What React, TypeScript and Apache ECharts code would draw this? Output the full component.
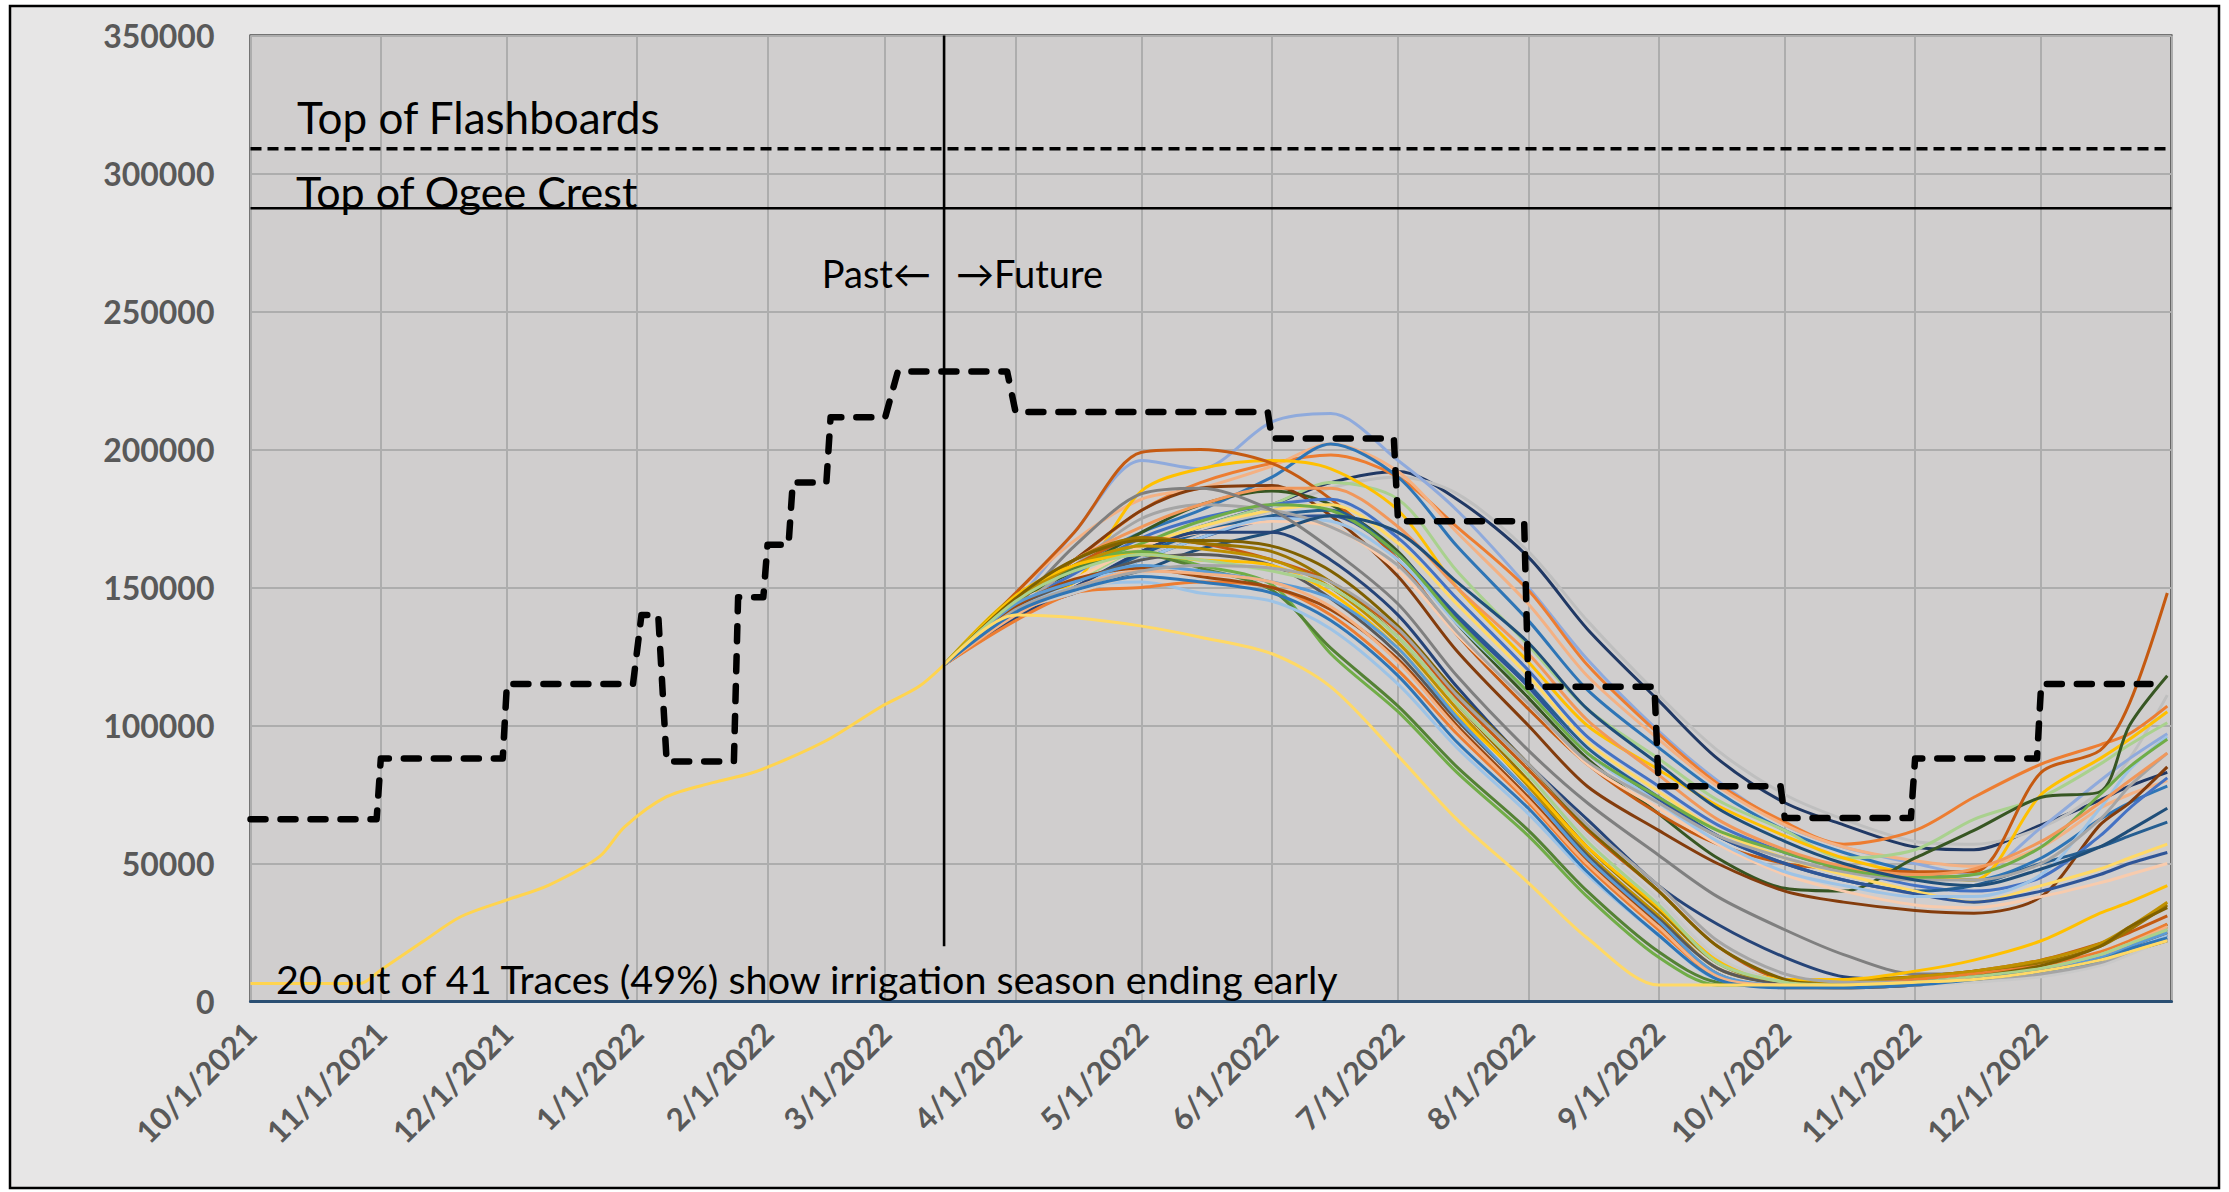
import React, { useEffect, useRef } from 'react';
import * as echarts from 'echarts';

// ---------- axis ----------
const X_MIN = '2021-10-01';
const X_MAX = '2023-01-01';
const Y_MIN = 0;
const Y_MAX = 350000;
const Y_STEP = 50000;

// ---------- reference levels ----------
const FLASHBOARDS_LEVEL = 309000;
const OGEE_LEVEL = 287400;
const NOW_DATE = '2022-03-15';
const NOW_LINE_RANGE = [20000, 350000];

// ---------- historical (past) trace ----------
const HIST_DATES = ['2021-10-01', '2021-10-27', '2021-11-01', '2021-11-11', '2021-11-20', '2021-12-01', '2021-12-11', '2021-12-23', '2021-12-29', '2022-01-08', '2022-01-19', '2022-01-28', '2022-02-06', '2022-02-16', '2022-02-28', '2022-03-09', '2022-03-15'];
const HIST_VALUES = [6500, 6500, 11400, 21700, 30700, 36800, 42200, 52500, 63300, 74200, 79300, 82700, 88100, 95400, 106800, 114100, 122000];

// ---------- rule curve (dashed step line) ----------
const STEP_DATES = ['2021-10-01', '2021-10-31', '2021-11-01', '2021-11-30', '2021-12-01', '2021-12-31', '2022-01-02', '2022-01-06', '2022-01-08', '2022-01-24', '2022-01-25', '2022-01-31', '2022-02-01', '2022-02-06', '2022-02-07', '2022-02-15', '2022-02-16', '2022-03-01', '2022-03-04', '2022-03-30', '2022-04-01', '2022-05-31', '2022-06-01', '2022-06-30', '2022-07-01', '2022-07-31', '2022-08-01', '2022-08-31', '2022-09-01', '2022-09-30', '2022-10-01', '2022-10-31', '2022-11-01', '2022-11-30', '2022-12-01', '2022-12-27'];
const STEP_VALUES = [66000, 66000, 88000, 88000, 115000, 115000, 140000, 140000, 87000, 87000, 146500, 146500, 165500, 165500, 188000, 188000, 211700, 211700, 228300, 228300, 213600, 213600, 204000, 204000, 174000, 174000, 114000, 114000, 78000, 78000, 66500, 66500, 88000, 88000, 115000, 115000];

// ---------- forecast traces (values in thousands) ----------
const TRACE_UNIT = 1000;
const TRACE_DATES = ['2022-03-15', '2022-04-01', '2022-04-15', '2022-05-01', '2022-05-15', '2022-06-01', '2022-06-15', '2022-07-01', '2022-07-15', '2022-08-01', '2022-08-15', '2022-09-01', '2022-09-15', '2022-10-01', '2022-10-15', '2022-11-01', '2022-11-15', '2022-12-01', '2022-12-15', '2022-12-22', '2022-12-31'];

const TRACE_VALUES = [
  [122, 140, 150, 163, 172, 180, 188, 192, 182, 161, 135, 109, 88, 72, 64, 56, 55, 64, 73, 78, 83],
  [122, 141, 149, 161, 170, 178, 186, 190, 184, 163, 138, 111, 91, 75, 66, 58, 57, 63, 76, 88, 111],
  [122, 145, 170, 196, 193, 210, 213, 196, 178, 150, 124, 98, 80, 64, 56, 50, 46, 63, 80, 88, 97],
  [122, 146, 160, 178, 188, 195, 198, 190, 172, 149, 122, 97, 79, 65, 57, 62, 74, 86, 93, 97, 107],
  [122, 148, 167, 182, 186, 194, 202, 192, 170, 144, 118, 95, 78, 64, 56, 51, 49, 56, 70, 75, 80],
  [122, 146, 158, 170, 178, 190, 202, 190, 165, 138, 113, 92, 76, 62, 54, 47, 44, 52, 66, 72, 78],
  [122, 144, 152, 165, 172, 180, 188, 182, 156, 129, 106, 88, 73, 62, 52, 55, 66, 74, 86, 93, 101],
  [122, 147, 152, 185, 193, 196, 193, 178, 150, 123, 100, 84, 71, 60, 52, 46, 44, 75, 88, 95, 105],
  [122, 145, 156, 170, 180, 185, 180, 163, 137, 110, 88, 68, 52, 41, 40, 52, 62, 74, 76, 100, 118],
  [122, 148, 170, 199, 200, 195, 182, 160, 133, 106, 86, 68, 57, 50, 48, 47, 47, 83, 91, 108, 148],
  [122, 145, 160, 178, 186, 187, 176, 154, 127, 100, 78, 62, 50, 40, 36, 33, 32, 38, 64, 72, 85],
  [122, 143, 155, 168, 175, 180, 182, 168, 146, 120, 96, 78, 64, 54, 48, 42, 40, 45, 60, 70, 81],
  [122, 141, 150, 162, 170, 176, 178, 162, 140, 115, 92, 74, 60, 50, 44, 40, 42, 50, 56, 60, 65],
  [122, 143, 153, 165, 172, 178, 180, 166, 144, 118, 94, 76, 62, 52, 46, 40, 36, 42, 48, 52, 57],
  [122, 142, 150, 160, 168, 175, 176, 162, 139, 114, 90, 73, 60, 50, 44, 39, 36, 40, 46, 50, 54],
  [122, 144, 153, 165, 170, 174, 172, 156, 133, 108, 86, 70, 57, 46, 40, 35, 34, 38, 43, 46, 50],
  [122, 143, 150, 160, 168, 175, 174, 160, 137, 112, 90, 72, 58, 47, 42, 38, 38, 46, 70, 84, 96],
  [122, 142, 158, 175, 180, 178, 172, 158, 134, 108, 87, 72, 60, 52, 47, 44, 44, 50, 66, 78, 90],
  [122, 145, 157, 166, 174, 180, 178, 162, 138, 112, 90, 74, 62, 54, 48, 45, 46, 56, 75, 85, 95],
  [122, 146, 160, 172, 180, 186, 186, 172, 150, 126, 102, 82, 66, 55, 49, 46, 48, 58, 72, 80, 90],
  [122, 140, 148, 156, 164, 170, 176, 170, 152, 130, 106, 86, 70, 58, 50, 44, 42, 48, 56, 62, 70],
  [122, 139, 150, 163, 170, 170, 160, 140, 114, 86, 66, 42, 28, 16, 9, 8, 9, 12, 17, 20, 24],
  [122, 143, 165, 184, 186, 178, 164, 144, 118, 91, 72, 53, 38, 26, 17, 10, 10, 12, 17, 21, 26],
  [122, 145, 158, 168, 166, 160, 152, 134, 110, 84, 62, 40, 20, 8, 7, 9, 11, 15, 21, 25, 31],
  [122, 146, 158, 163, 158, 151, 126, 105, 83, 60, 38, 16, 6, 6, 6, 7, 9, 12, 17, 21, 27],
  [122, 147, 157, 162, 157, 149, 128, 107, 85, 62, 40, 18, 7, 6, 6, 7, 9, 12, 17, 21, 28],
  [122, 142, 150, 152, 148, 145, 135, 115, 92, 68, 46, 24, 8, 6, 6, 7, 9, 12, 16, 19, 24],
  [122, 144, 160, 168, 166, 163, 152, 132, 108, 80, 56, 33, 14, 7, 8, 9, 11, 14, 20, 26, 35],
  [122, 145, 158, 165, 164, 160, 150, 130, 106, 78, 54, 31, 12, 7, 7, 9, 11, 15, 21, 27, 36],
  [122, 143, 152, 160, 162, 158, 146, 126, 102, 76, 53, 30, 12, 6, 5, 6, 8, 11, 15, 18, 22],
  [122, 138, 148, 150, 152, 150, 140, 120, 97, 72, 49, 26, 9, 6, 6, 8, 10, 13, 18, 22, 28],
  [122, 143, 153, 157, 154, 150, 142, 124, 100, 74, 51, 28, 10, 5, 5, 6, 8, 11, 16, 20, 25],
  [122, 147, 158, 162, 160, 158, 148, 128, 104, 79, 56, 34, 15, 8, 8, 11, 15, 22, 32, 36, 42],
  [122, 141, 148, 155, 158, 156, 150, 132, 108, 82, 60, 37, 16, 7, 6, 6, 7, 9, 13, 17, 23],
  [122, 144, 152, 158, 156, 152, 146, 128, 103, 76, 52, 29, 10, 6, 6, 7, 9, 12, 16, 20, 25],
  [122, 140, 150, 156, 155, 152, 143, 123, 99, 73, 50, 27, 9, 6, 6, 7, 9, 12, 17, 21, 27],
  [122, 146, 160, 167, 167, 165, 156, 136, 112, 86, 63, 40, 20, 8, 6, 7, 9, 13, 20, 27, 34],
  [122, 145, 156, 162, 160, 156, 150, 132, 108, 82, 58, 35, 14, 7, 6, 7, 9, 12, 17, 21, 26],
  [122, 142, 150, 156, 158, 157, 152, 135, 111, 86, 64, 42, 22, 10, 7, 7, 8, 10, 14, 18, 23],
  [122, 141, 149, 154, 152, 148, 138, 118, 94, 70, 47, 24, 8, 5, 5, 6, 8, 11, 15, 19, 23],
  [122, 140, 139, 136, 132, 126, 114, 89, 66, 43, 23, 6, 6, 6, 6, 7, 8, 11, 15, 18, 22],
];

const TRACE_COLORS = [
  '#203864', '#BFBFBF', '#8FAADC', '#ED7D31', '#F4B183', '#2E75B6', '#A9D18E', '#FFC000',
  '#375623', '#C55A11', '#843C0C', '#4472C4', '#255E91', '#FFD966', '#2F5597', '#F8CBAD',
  '#9DC3E6', '#A5A5A5', '#70AD47', '#F1975A', '#1F4E79',
  '#264478', '#7F7F7F', '#C55A11', '#70AD47', '#548235', '#9DC3E6', '#997300', '#BF9000',
  '#595959', '#ED7D31', '#9E480E', '#FFC000', '#C9C9C9', '#5B9BD5', '#F4B183', '#7F6000',
  '#A9D18E', '#A5A5A5', '#2E75B6', '#FFD966',
];

const FONT = "Lato, 'Open Sans', 'DejaVu Sans', sans-serif";

function fmtDate(v: number): string {
  const d = new Date(v);
  if (d.getFullYear() >= 2023) return '';
  return `${d.getMonth() + 1}/${d.getDate()}/${d.getFullYear()}`;
}

export default function App() {
  const ref = useRef<HTMLDivElement>(null);

  useEffect(() => {
    document.body.style.margin = '0';
    if (!ref.current) return;
    const chart = echarts.init(ref.current, undefined, { renderer: 'svg' });
    const DAY = 86400000;

    const traceSeries = TRACE_VALUES.map((vals, i) => ({
      type: 'line',
      name: `Trace ${i + 1}`,
      data: TRACE_DATES.map((d, j) => [d, vals[j] * TRACE_UNIT]),
      showSymbol: false,
      symbol: 'none',
      smooth: 0.3,
      silent: true,
      z: 2,
      lineStyle: { color: TRACE_COLORS[i], width: 3 },
    }));

    const option: any = {
      animation: false,
      backgroundColor: '#FFFFFF',
      grid: {
        left: 250.5,
        right: 57.5,
        top: 35.5,
        bottom: 190.5,
        show: true,
        backgroundColor: '#D0CECE',
        borderColor: '#000000',
        borderWidth: 2,
        containLabel: false,
        outerBoundsMode: 'none',
      },
      xAxis: {
        type: 'time',
        min: X_MIN,
        max: X_MAX,
        minInterval: 28 * DAY,
        maxInterval: 31 * DAY,
        axisLine: { show: true, onZero: false, lineStyle: { color: '#2B4F73', width: 3 } },
        axisTick: { show: false },
        splitLine: { show: true, lineStyle: { color: '#ADADAD', width: 2 } },
        axisLabel: {
          rotate: 45,
          margin: 26,
          fontSize: 31,
          fontWeight: 'bold',
          fontFamily: FONT,
          color: '#595959',
          formatter: (v: number) => fmtDate(v),
          showMinLabel: true,
          showMaxLabel: false,
          hideOverlap: false,
        },
      },
      yAxis: {
        type: 'value',
        min: Y_MIN,
        max: Y_MAX,
        interval: Y_STEP,
        axisLine: { show: false },
        axisTick: { show: false },
        splitLine: { show: true, lineStyle: { color: '#ADADAD', width: 2 } },
        axisLabel: {
          margin: 36,
          fontSize: 32,
          fontWeight: 'bold',
          fontFamily: FONT,
          color: '#595959',
          formatter: (v: number) => String(v),
        },
      },
      graphic: [
        {
          type: 'rect',
          z: -100,
          silent: true,
          shape: { x: 10, y: 6, width: 2209, height: 1182 },
          style: { fill: '#E7E6E6', stroke: '#000000', lineWidth: 2.5 },
        },
        {
          type: 'text', x: 297, y: 117, z: 100, silent: true,
          style: { text: 'Top of Flashboards', font: `44px ${FONT}`, fill: '#000', align: 'left', verticalAlign: 'middle' },
        },
        {
          type: 'text', x: 296, y: 191, z: 100, silent: true,
          style: { text: 'Top of Ogee Crest', font: `43px ${FONT}`, fill: '#000', align: 'left', verticalAlign: 'middle' },
        },
        {
          type: 'text', x: 931, y: 273, z: 100, silent: true,
          style: { text: 'Past\u2190', font: `38px ${FONT}`, fill: '#000', align: 'right', verticalAlign: 'middle' },
        },
        {
          type: 'text', x: 956, y: 273, z: 100, silent: true,
          style: { text: '\u2192Future', font: `38px ${FONT}`, fill: '#000', align: 'left', verticalAlign: 'middle' },
        },
        {
          type: 'text', x: 276, y: 978, z: 100, silent: true,
          style: { text: '20 out of 41 Traces (49%) show irrigation season ending early', font: `39.5px ${FONT}`, fill: '#000', align: 'left', verticalAlign: 'middle' },
        },
      ],
      series: [
        ...traceSeries,
        {
          type: 'line',
          name: 'Historical',
          data: HIST_DATES.map((d, i) => [d, HIST_VALUES[i]]),
          showSymbol: false,
          symbol: 'none',
          smooth: 0.3,
          silent: true,
          z: 3,
          lineStyle: { color: '#FFD44F', width: 3 },
        },
        {
          type: 'line',
          name: 'Rule curve',
          data: STEP_DATES.map((d, i) => [d, STEP_VALUES[i]]),
          showSymbol: false,
          symbol: 'none',
          silent: true,
          z: 5,
          lineStyle: { color: '#000000', width: 6.5, type: [15, 15], cap: 'round', join: 'round' },
        },
        {
          type: 'line',
          name: 'Top of Flashboards',
          data: [[X_MIN, FLASHBOARDS_LEVEL], [X_MAX, FLASHBOARDS_LEVEL]],
          showSymbol: false,
          symbol: 'none',
          silent: true,
          z: 5,
          lineStyle: { color: '#000000', width: 3.5, type: [11, 6] },
        },
        {
          type: 'line',
          name: 'Top of Ogee Crest',
          data: [[X_MIN, OGEE_LEVEL], [X_MAX, OGEE_LEVEL]],
          showSymbol: false,
          symbol: 'none',
          silent: true,
          z: 5,
          lineStyle: { color: '#000000', width: 2.5 },
        },
        {
          type: 'line',
          name: 'Now',
          data: [[NOW_DATE, NOW_LINE_RANGE[0]], [NOW_DATE, NOW_LINE_RANGE[1]]],
          showSymbol: false,
          symbol: 'none',
          silent: true,
          z: 6,
          lineStyle: { color: '#000000', width: 2.6 },
        },
      ],
    };

    chart.setOption(option);
    return () => chart.dispose();
  }, []);

  return <div ref={ref} style={{ width: 2229, height: 1192 }} />;
}
